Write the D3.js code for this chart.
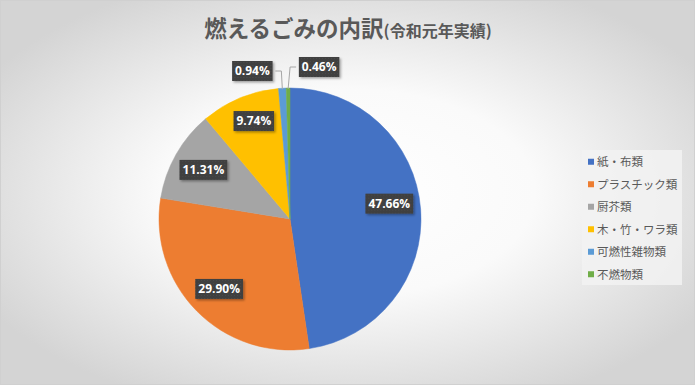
<!DOCTYPE html>
<html>
<head>
<meta charset="utf-8">
<script src="https://cdn.jsdelivr.net/npm/d3@7"></script>
<style>
  body { margin: 0; background: #fff; }
  svg { display: block; font-family: "Noto Sans CJK JP", "Noto Sans", sans-serif; }
</style>
</head>
<body>
<div id="chart"></div>
<script>
// data
const categories = ["紙・布類", "プラスチック類", "厨芥類", "木・竹・ワラ類", "可燃性雑物類", "不燃物類"];
const shares = [47.66, 29.90, 11.31, 9.74, 0.94, 0.46];
const colors = ["#4472C4", "#ED7D31", "#A5A5A5", "#FFC000", "#5B9BD5", "#70AD47"];
const titleMain = "燃えるごみの内訳";
const titleSub = "(令和元年実績)";

const width = 695, height = 385;
const cx = 290, cy = 219, radius = 131;

const svg = d3.select("#chart").append("svg")
    .attr("width", width)
    .attr("height", height);

let defs = svg.append("defs");

// radial background
let bg = defs.append("radialGradient")
    .attr("id", "bgGrad")
    .attr("cx", "50%").attr("cy", "50%").attr("r", "60%");
bg.append("stop").attr("offset", "0%").attr("stop-color", "#ffffff");
bg.append("stop").attr("offset", "45%").attr("stop-color", "#fafafa");
bg.append("stop").attr("offset", "100%").attr("stop-color", "#d4d4d4");

// dotted texture for label boxes
let pat = defs.append("pattern")
    .attr("id", "dots")
    .attr("width", 3).attr("height", 3)
    .attr("patternUnits", "userSpaceOnUse");
pat.append("rect").attr("width", 3).attr("height", 3).attr("fill", "#404040");
pat.append("rect").attr("width", 1).attr("height", 1).attr("fill", "#4a4a4a");

let sh = defs.append("filter").attr("id", "shadow")
    .attr("x", "-20%").attr("y", "-20%").attr("width", "150%").attr("height", "160%");
sh.append("feDropShadow")
    .attr("dx", 1.5).attr("dy", 1.5).attr("stdDeviation", 1.2)
    .attr("flood-color", "#000").attr("flood-opacity", 0.35);

svg.append("rect")
    .attr("x", 0.5).attr("y", 0.5)
    .attr("width", width - 1).attr("height", height - 1)
    .attr("fill", "url(#bgGrad)")
    .attr("stroke", "#d0d0d0");

// title
let title = svg.append("text")
    .attr("x", 348)
    .attr("y", 37)
    .attr("text-anchor", "middle")
    .attr("fill", "#595959")
    .attr("font-weight", "bold");
title.append("tspan").attr("font-size", "22.5px").text(titleMain);
title.append("tspan").attr("font-size", "16px").text(titleSub);

// pie
const data = categories.map((c, i) => ({name: c, value: shares[i], color: colors[i]}));

const pie = d3.pie()
    .value(d => d.value)
    .sort(null);

const arc = d3.arc()
    .innerRadius(0)
    .outerRadius(radius);

const labelArc = d3.arc()
    .innerRadius(radius * 0.76)
    .outerRadius(radius * 0.76);

const arcs = pie(data);

let g = svg.append("g")
    .attr("transform", "translate(" + cx + "," + cy + ")");

g.selectAll("path.slice")
    .data(arcs)
    .enter().append("path")
    .attr("class", "slice")
    .attr("d", arc)
    .attr("fill", d => d.data.color)
    .attr("stroke", d => d.data.color)
    .attr("stroke-width", 0.5);

// label positions: inside for big slices, outside with a leader for tiny ones
const fmt = v => v.toFixed(2) + "%";
const outsideOffset = [0, 0, 0, 0, -30, 31];

arcs.forEach((d, i) => {
    let mid = (d.startAngle + d.endAngle) / 2;
    let lx, ly;
    if (d.data.value > 5) {
        [lx, ly] = labelArc.centroid(d);
        if (i === 0) ly -= 8;
        if (i === 3) { lx += 2; ly -= 6; }
    } else {
        let ex = Math.sin(mid) * radius, ey = -Math.cos(mid) * radius;
        lx = ex + outsideOffset[i];
        ly = -radius - 17 + (i === 5 ? -4 : 0);
        // leader line
        let side = outsideOffset[i] < 0 ? 1 : -1;
        let bx = lx + side * 23;
        g.append("polyline")
            .attr("points", [[bx, ly], [bx + side * 6, ly], [ex, ey + 1]].map(p => p.join(",")).join(" "))
            .attr("fill", "none")
            .attr("stroke", "#a6a6a6")
            .attr("stroke-width", 1);
    }

    let lg = g.append("g").attr("transform", "translate(" + lx + "," + ly + ")");
    let t = fmt(d.data.value);
    let w = t.length * 7.3 + 4;
    lg.append("rect")
        .attr("x", -w / 2).attr("y", -10)
        .attr("width", w).attr("height", 20)
        .attr("fill", "url(#dots)")
        .attr("filter", "url(#shadow)");
    lg.append("text")
        .attr("text-anchor", "middle")
        .attr("dy", "0.36em")
        .attr("fill", "#ffffff")
        .attr("font-family", "'Open Sans', 'Noto Sans', sans-serif")
        .attr("font-weight", "bold")
        .attr("font-size", "12px")
        .text(t);
});

// legend
let legend = svg.append("g")
    .attr("transform", "translate(582,150)");

legend.append("rect")
    .attr("width", 100).attr("height", 135)
    .attr("fill", "#f2f2f2")
    .attr("opacity", 0.85);

let ly = d3.scaleBand()
    .domain(categories)
    .range([0, 135]);

let items = legend.selectAll("g.item")
    .data(data)
    .enter().append("g")
    .attr("class", "item")
    .attr("transform", d => "translate(0," + (ly(d.name) + ly.bandwidth() / 2 + 1) + ")");

items.append("rect")
    .attr("x", 6).attr("y", -3.5)
    .attr("width", 6).attr("height", 6)
    .attr("fill", d => d.color);

items.append("text")
    .attr("x", 15)
    .attr("dy", "0.35em")
    .attr("fill", "#595959")
    .attr("font-size", "11.5px")
    .text(d => d.name);
</script>
</body>
</html>
